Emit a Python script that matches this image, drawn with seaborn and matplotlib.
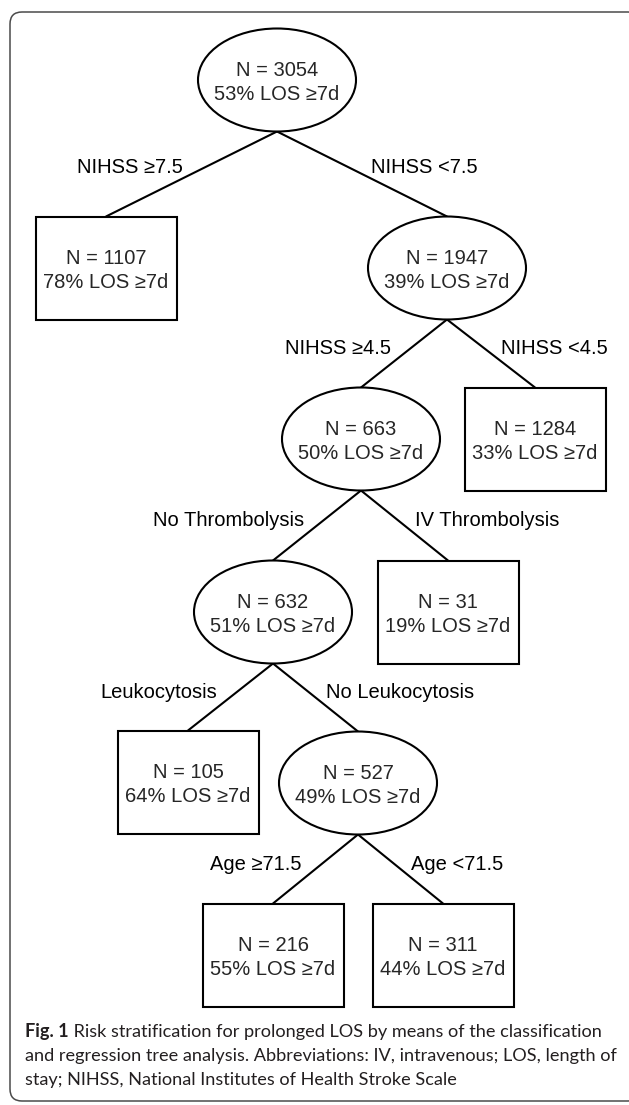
import numpy as np
import pandas as pd
import matplotlib
matplotlib.use("Agg")
import matplotlib.pyplot as plt
from matplotlib.patches import Ellipse, Rectangle, FancyBboxPatch
import seaborn as sns

# tree content
node_n = [3054, 1107, 1947, 663, 1284, 632, 31, 105, 527, 216, 311]
node_pct = [53, 78, 39, 50, 33, 51, 19, 64, 49, 55, 44]
node_leaf = [False, True, False, False, True, False, True, True, False, True, True]
node_parent = [-1, 0, 0, 2, 2, 3, 3, 5, 5, 8, 8]
split_labels = ["", "NIHSS ≥7.5", "NIHSS <7.5", "NIHSS ≥4.5", "NIHSS <4.5",
                "No Thrombolysis", "IV Thrombolysis", "Leukocytosis",
                "No Leukocytosis", "Age ≥71.5", "Age <71.5"]

# layout in pixels (origin top-left)
node_x = [277, 106, 447, 361, 535, 273, 448, 188, 358, 273, 443]
node_y = [80, 268, 268, 439, 439, 612, 612, 782, 783, 955, 955]

caption_bold = "Fig. 1"
caption_lines = ["Risk stratification for prolonged LOS by means of the classification",
                 "and regression tree analysis. Abbreviations: IV, intravenous; LOS, length of",
                 "stay; NIHSS, National Institutes of Health Stroke Scale"]

nodes = pd.DataFrame({"n": node_n, "pct": node_pct, "leaf": node_leaf,
                      "parent": node_parent, "split": split_labels,
                      "x": node_x, "y": node_y})

sns.set_style("white")
plt.rcParams['font.family'] = ['Liberation Sans', 'DejaVu Sans']

W, H = 629, 1105
fig = plt.figure(figsize=(W / 100, H / 100), dpi=100)
ax = fig.add_axes([0, 0, 1, 1])
ax.set_xlim(0, W)
ax.set_ylim(H, 0)
ax.axis('off')

ell_w, ell_h = 158, 103
box_w, box_h = 141, 103
lw = 1.5

# outer frame
ax.add_patch(FancyBboxPatch((10, 12), 630, 1089, boxstyle="round,pad=0,rounding_size=12",
                            fc='white', ec='#4a4a4a', lw=1.1, zorder=0))

# edges
rows = []
for i, r in nodes.iterrows():
    if r.parent < 0:
        continue
    p = nodes.loc[r.parent]
    rows.append({"edge": i, "x": p.x, "y": p.y + ell_h / 2})
    rows.append({"edge": i, "x": r.x, "y": r.y - box_h / 2})
edges = pd.DataFrame(rows)
sns.lineplot(data=edges, x="x", y="y", units="edge", estimator=None, sort=False,
             color='black', lw=lw, legend=False, ax=ax)
ax.set_xlim(0, W)
ax.set_ylim(H, 0)
ax.axis('off')

# split labels
for i, r in nodes.iterrows():
    if r.parent < 0:
        continue
    p = nodes.loc[r.parent]
    y0, y1 = p.y + ell_h / 2, r.y - box_h / 2
    t = 0.40
    ly = y0 + t * (y1 - y0)
    lx = p.x + t * (r.x - p.x)
    left = r.x < p.x
    gap = 26 if r.parent == 0 else (22 if left else 19)
    ax.text(lx - gap if left else lx + gap, ly, r.split, ha='right' if left else 'left',
            va='center_baseline', fontsize=14.5, color='black')

# nodes
for i, r in nodes.iterrows():
    if r.leaf:
        shape = Rectangle((r.x - box_w / 2, r.y - box_h / 2), box_w, box_h,
                          fc='white', ec='black', lw=lw, zorder=3)
    else:
        shape = Ellipse((r.x, r.y), ell_w, ell_h, fc='white', ec='black', lw=lw, zorder=3)
    ax.add_patch(shape)
    ax.text(r.x, r.y - 11.5, f"N = {r.n}", ha='center', va='center_baseline',
            fontsize=14.5, zorder=4)
    ax.text(r.x, r.y + 12.5, f"{r.pct}% LOS ≥7d", ha='center', va='center_baseline',
            fontsize=14.5, zorder=4)

# caption, sized so the widest line fills the frame width
cap_font = ['Lato', 'DejaVu Sans']
cap_col = '#231f20'
fig.canvas.draw()
rend = fig.canvas.get_renderer()
fs = 12
probe = [ax.text(25, 1037, caption_bold, fontweight='bold', fontsize=fs, family=cap_font),
         ax.text(0, 1037, " " + caption_lines[0], fontsize=fs, family=cap_font),
         ax.text(0, 1037, caption_lines[1], fontsize=fs, family=cap_font)]
w1 = probe[0].get_window_extent(rend).width + probe[1].get_window_extent(rend).width
w2 = probe[2].get_window_extent(rend).width
for t in probe:
    t.remove()
fs = fs * 588 / max(w1, w2)

tb = ax.text(25, 1037, caption_bold, fontweight='bold', fontsize=fs, family=cap_font,
             color=cap_col, va='baseline')
wb = tb.get_window_extent(rend).width
ax.text(25 + wb, 1037, " " + caption_lines[0], fontsize=fs, family=cap_font,
        color=cap_col, va='baseline')
for k, line in enumerate(caption_lines[1:]):
    ax.text(25, 1037 + 24 * (k + 1), line, fontsize=fs, family=cap_font,
            color=cap_col, va='baseline')

fig.savefig("out.png", dpi=100)
